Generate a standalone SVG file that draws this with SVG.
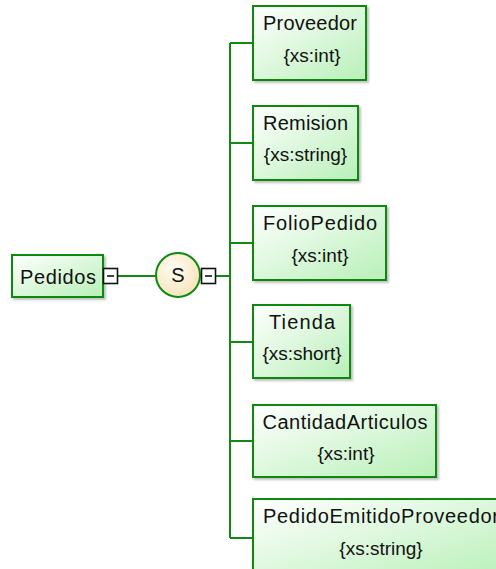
<svg xmlns="http://www.w3.org/2000/svg" width="496" height="569" viewBox="0 0 496 569">
<defs>
<linearGradient id="boxg" x1="0" y1="0" x2="1" y2="1">
<stop offset="0" stop-color="#ffffff"/>
<stop offset="1" stop-color="#b8f0b8"/>
</linearGradient>
<radialGradient id="circg" cx="0.4" cy="0.35" r="0.7">
<stop offset="0" stop-color="#fffdf3"/>
<stop offset="1" stop-color="#f7e3b8"/>
</radialGradient>
<filter id="sh" x="-10%" y="-10%" width="130%" height="130%">
<feGaussianBlur in="SourceAlpha" stdDeviation="1"/>
<feOffset dx="2" dy="2" result="b"/>
<feComponentTransfer><feFuncA type="linear" slope="0.25"/></feComponentTransfer>
<feMerge><feMergeNode/><feMergeNode in="SourceGraphic"/></feMerge>
</filter>
</defs>
<style>
.box{fill:url(#boxg);stroke:#108a10;stroke-width:2;filter:url(#sh)}
.t{font-family:"Liberation Sans",Arial,sans-serif;font-size:19px;fill:#111;text-anchor:middle}
.n{font-size:20px}
.ln{stroke:#108a10;stroke-width:2;fill:none}
.mb{fill:#fff;stroke:#111;stroke-width:1.6}
.mm{stroke:#111;stroke-width:1.6}
</style>
<g id="connectors">
<path class="ln" d="M118 276 H156"/>
<path class="ln" d="M216 276 H230"/>
<path class="ln" d="M230 43 V538"/>
<path class="ln" d="M230 43 H253 M230 143 H253 M230 243 H253 M230 342 H253 M230 441 H253 M230 538 H253"/>
</g>
<g id="Pedidos">
<rect class="box" x="12" y="255" width="91" height="42"/>
<text class="t n" x="58" y="284" textLength="76" lengthAdjust="spacing">Pedidos</text>
<rect class="mb" x="103.5" y="268.5" width="14" height="15"/>
<line class="mm" x1="107" y1="276" x2="114" y2="276"/>
</g>
<g id="sequence">
<circle cx="178" cy="275" r="22" fill="url(#circg)" stroke="#108a10" stroke-width="2"/>
<text class="t n" x="178" y="282">S</text>
<rect class="mb" x="201.5" y="268.5" width="14" height="15"/>
<line class="mm" x1="205" y1="276" x2="212" y2="276"/>
</g>
<g id="Proveedor">
<rect class="box" x="253" y="6" width="113" height="74"/>
<text class="t n" x="310" y="30" textLength="94" lengthAdjust="spacing">Proveedor</text>
<text class="t" x="312" y="62">{xs:int}</text>
</g>
<g id="Remision">
<rect class="box" x="253" y="106" width="105" height="74"/>
<text class="t n" x="305.5" y="130" textLength="85" lengthAdjust="spacing">Remision</text>
<text class="t" x="305.5" y="161">{xs:string}</text>
</g>
<g id="FolioPedido">
<rect class="box" x="253" y="206" width="133" height="74"/>
<text class="t n" x="320" y="230" textLength="114" lengthAdjust="spacing">FolioPedido</text>
<text class="t" x="320" y="262">{xs:int}</text>
</g>
<g id="Tienda">
<rect class="box" x="253" y="305" width="97" height="73"/>
<text class="t n" x="302" y="329" textLength="66" lengthAdjust="spacing">Tienda</text>
<text class="t" x="302" y="360">{xs:short}</text>
</g>
<g id="CantidadArticulos">
<rect class="box" x="253" y="405" width="183" height="72"/>
<text class="t n" x="345" y="429" textLength="165" lengthAdjust="spacing">CantidadArticulos</text>
<text class="t" x="346" y="460">{xs:int}</text>
</g>
<g id="PedidoEmitidoProveedor">
<rect class="box" x="253" y="499" width="256" height="80"/>
<text class="t n" x="381" y="523" textLength="236" lengthAdjust="spacing">PedidoEmitidoProveedor</text>
<text class="t" x="381" y="555">{xs:string}</text>
</g>
</svg>
